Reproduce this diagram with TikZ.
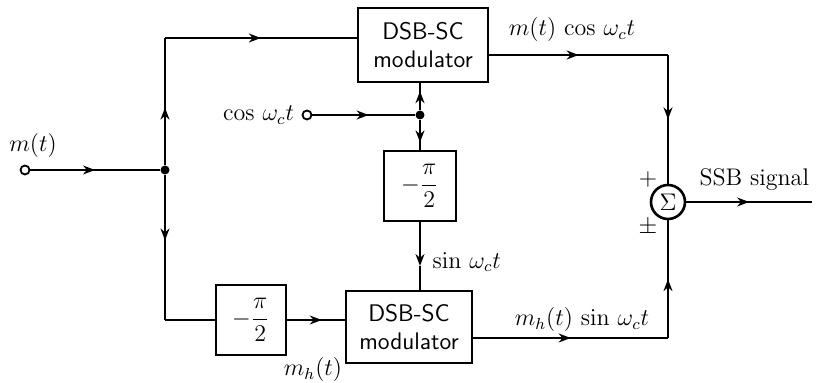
\documentclass[tikz,border=0pt]{standalone}
\usepackage{amsmath}
\usetikzlibrary{arrows.meta,decorations.markings,calc}
\begin{document}
\begin{tikzpicture}[x=0.5pt,y=-0.5pt,
  line width=0.9pt,
  font=\large,
  blk/.style={draw,line width=1.3pt,align=center,inner sep=0pt,font=\large\sffamily},
  port/.style={draw,circle,minimum size=4.5pt,inner sep=0pt,line width=0.9pt,fill=white},
  dotn/.style={circle,fill,minimum size=4.5pt,inner sep=0pt},
  tip/.style={-{Stealth[length=6pt,width=4.5pt]}},
  arr/.style={postaction={decorate},decoration={markings,mark=at position #1 with {\arrow{Stealth[length=6pt,width=4.5pt]}}}}
]
\useasboundingbox (0,0) rectangle (816,383);
% blocks
\node[blk,minimum width=65pt,minimum height=37pt] (mod1) at (423,45) {DSB-SC\\modulator};
\node[blk,minimum width=36pt,minimum height=35pt] (ph1) at (420,186) {$-\dfrac{\pi}{2}$};
\node[blk,minimum width=35pt,minimum height=35pt] (ph2) at (251,320) {$-\dfrac{\pi}{2}$};
\node[blk,minimum width=63pt,minimum height=36pt] (mod2) at (409,327) {DSB-SC\\modulator};
\node[draw,circle,line width=1.3pt,minimum size=17pt,inner sep=0pt] (sum) at (668,202) {$\Sigma$};
% ports and junctions
\node[port] (min) at (25,170) {};
\node[dotn] (j1) at (165,170) {};
\node[port] (cin) at (307,115) {};
\node[dotn] (j2) at (420,115) {};
\coordinate (tl) at (165,38);
\coordinate (bl) at (165,320);
\coordinate (c1) at (668,55);
\coordinate (c2) at (668,338);
\coordinate (out) at (812,202);
\coordinate (m2t) at (mod2.north -| ph1.south);
\coordinate (mid) at (420,266);
% connectors
\draw[arr=0.5] (min) -- (j1);
\draw[arr=0.45] (j1) -- (tl);
\draw[arr=0.5] (tl) -- (mod1.west |- tl);
\draw[arr=0.45] (j1) -- (bl);
\draw (bl) -- (ph2.west);
\draw[arr=0.6] (ph2.east) -- (mod2.west |- ph2.east);
\draw[arr=0.55] (cin) -- (j2);
\draw[arr=0.7] (j2) -- (mod1.south -| j2);
\draw[arr=0.75] (j2) -- (ph1.north);
\draw[tip] (ph1.south) -- (mid);
\draw (mid) -- (m2t);
\draw[arr=0.5] (mod1.east |- c1) -- (c1);
\draw[arr=0.5] (c1) -- (sum.north);
\draw[arr=0.5] (mod2.east |- c2) -- (c2);
\draw[arr=0.5] (c2) -- (sum.south);
\draw[arr=0.5] (sum.east) -- (out);
% labels
\node (lm) at (33,146) {$m(t)$};
\node[anchor=east] (lcos) at (cin.west) {$\cos\,\omega_c t$};
\node (lmc) at (572,30) {$m(t)\,\cos\,\omega_c t$};
\node[anchor=west] (lsin) at (425,262) {$\sin\,\omega_c t$};
\node (lmhs) at (582,320) {$m_h(t)\,\sin\,\omega_c t$};
\node (lmh) at (313,370) {$m_h(t)$};
\node (lp) at (648,180) {$+$};
\node (lpm) at (648,228) {$\pm$};
\node[anchor=west] (lssb) at (692,180) {SSB signal};
\end{tikzpicture}
\end{document}
